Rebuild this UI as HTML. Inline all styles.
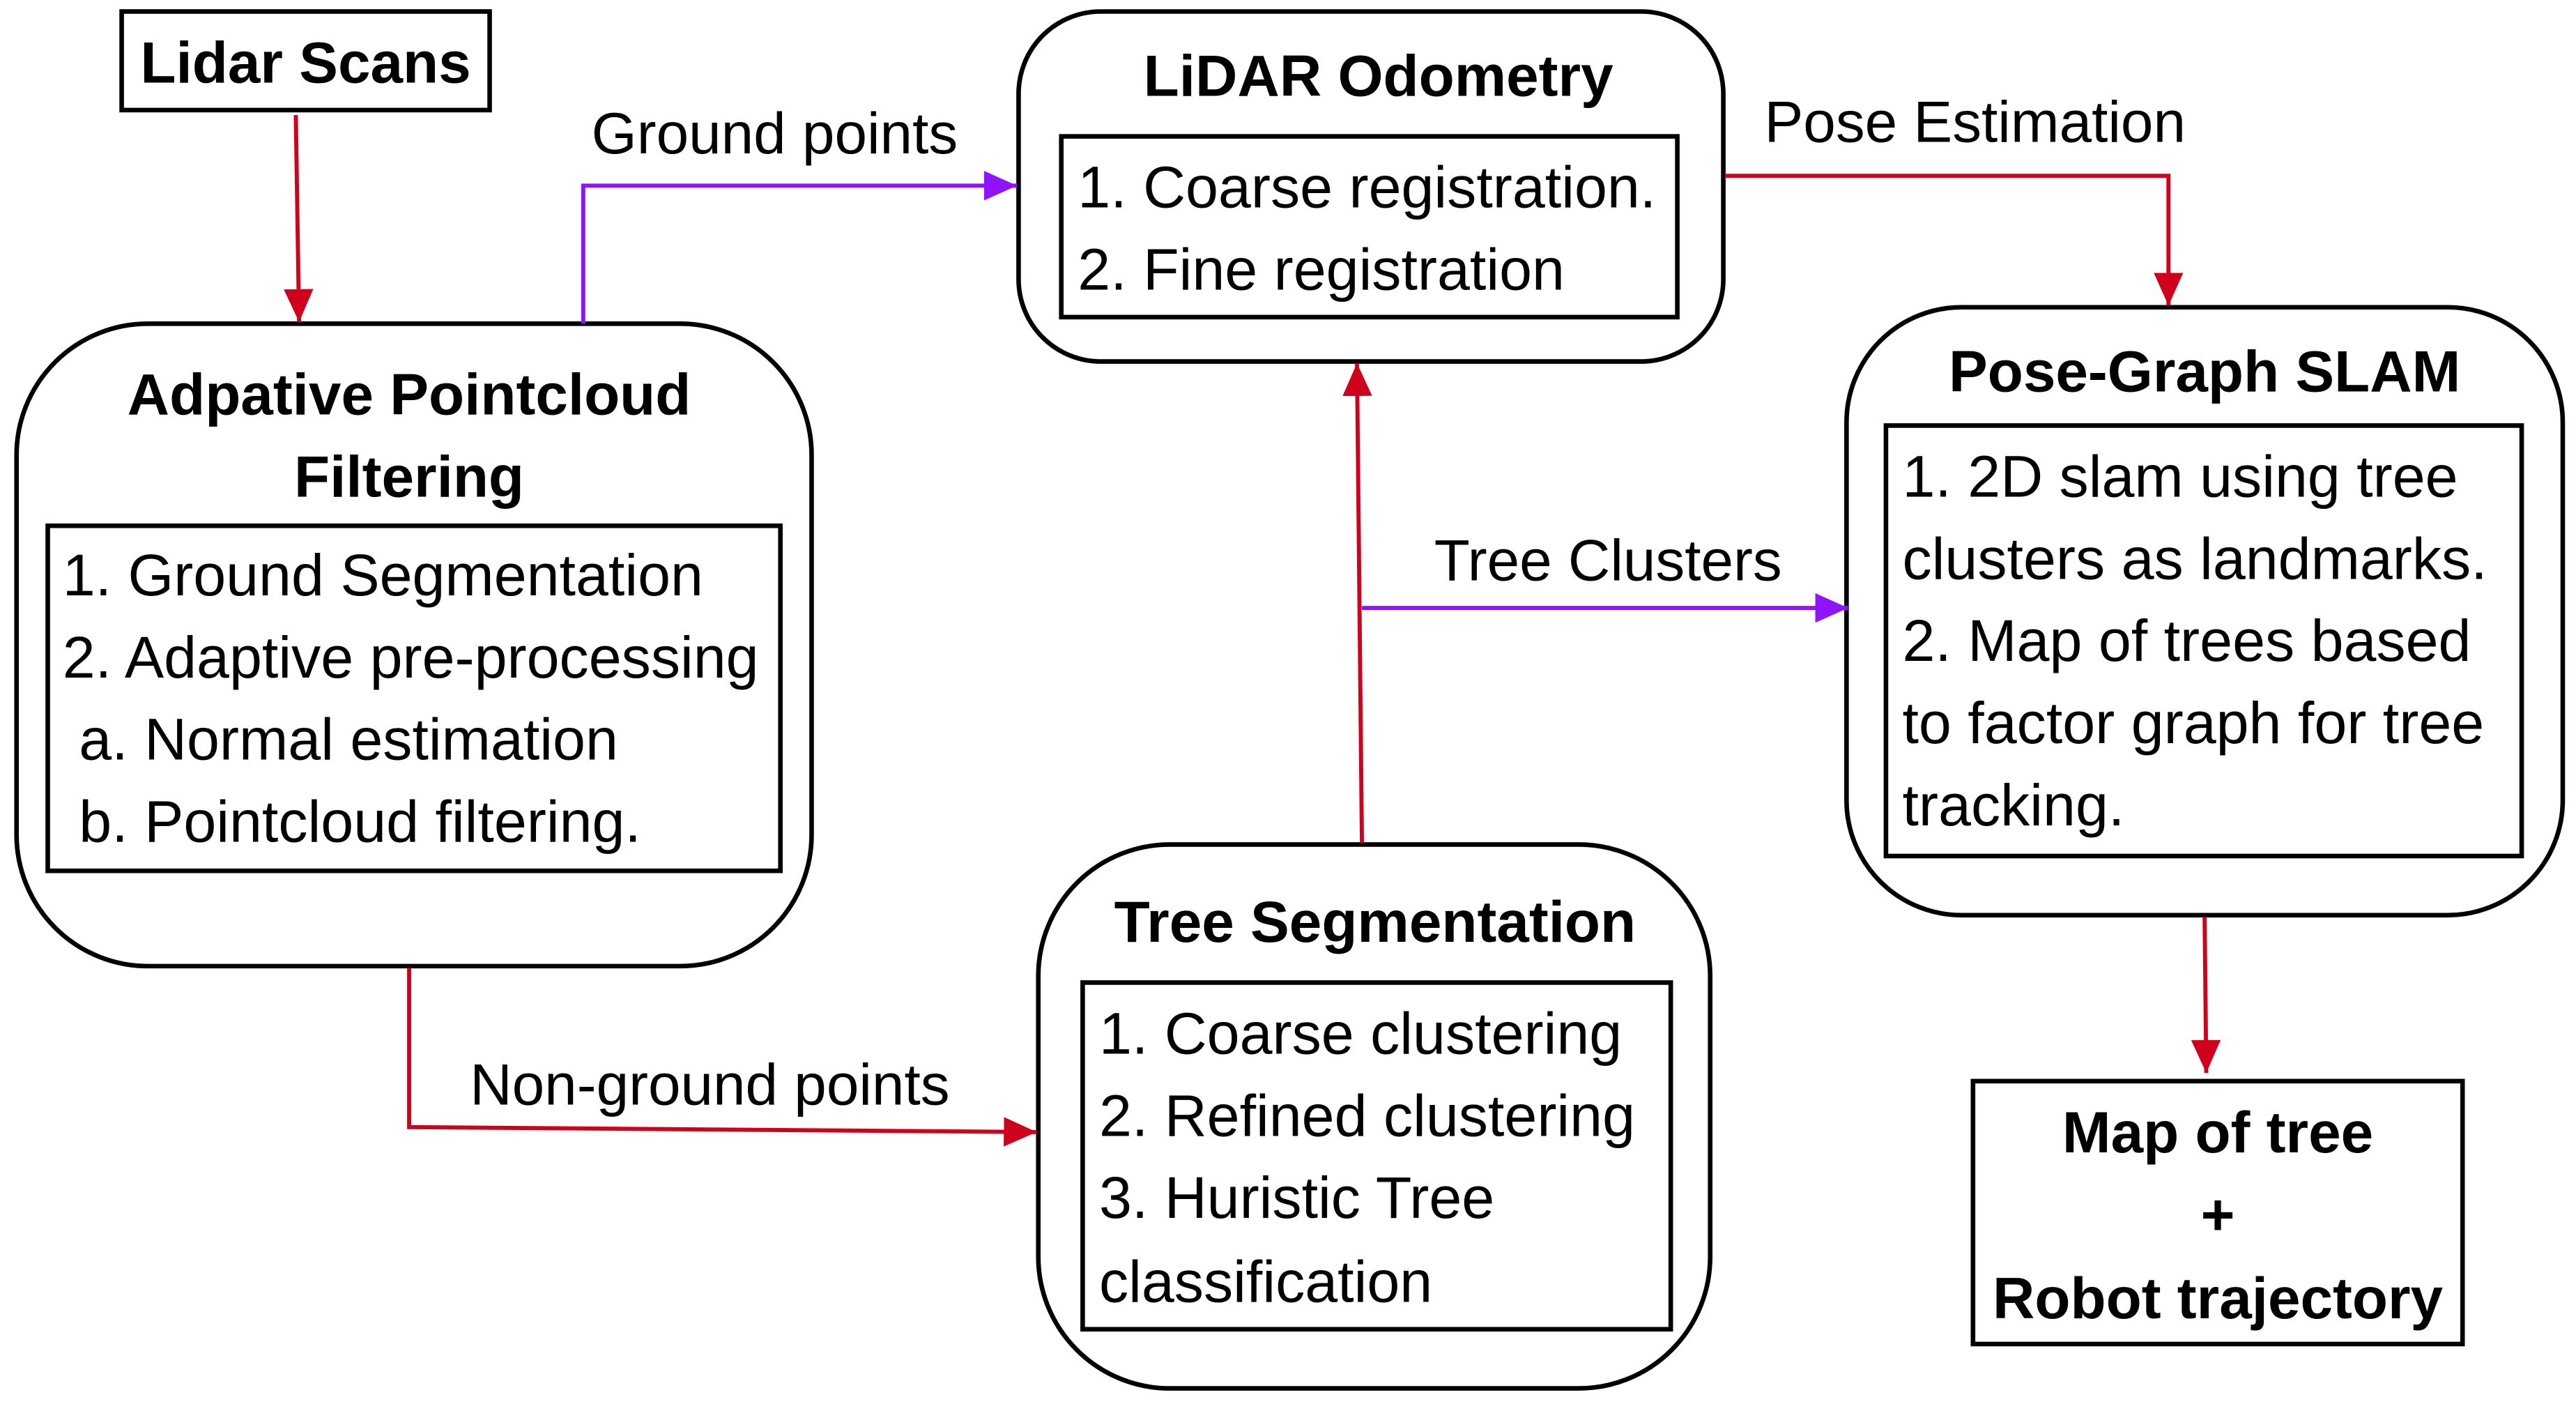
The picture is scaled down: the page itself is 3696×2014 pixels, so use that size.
<!DOCTYPE html>
<html><head><meta charset="utf-8"><style>html,body{margin:0;padding:0;background:#fff}svg{display:block}</style></head><body>
<svg width="3696" height="2014" viewBox="0 0 1568 854.5" xmlns="http://www.w3.org/2000/svg" font-family="Liberation Sans, sans-serif">
<defs>
<marker id="r" markerWidth="20" markerHeight="20" refX="20" refY="10" orient="auto" markerUnits="userSpaceOnUse" viewBox="0 0 20 20"><path d="M0,1 L20,10 L0,19 z" fill="#d0021b"/></marker>
<marker id="p" markerWidth="20" markerHeight="20" refX="20" refY="10" orient="auto" markerUnits="userSpaceOnUse" viewBox="0 0 20 20"><path d="M0,1 L20,10 L0,19 z" fill="#9013fe"/></marker>
</defs>
<g fill="none" stroke="#000" stroke-width="2.8">
<rect x="74" y="7" width="224" height="60"/>
<rect x="10" y="197" width="484" height="391" rx="80"/>
<rect x="29" y="320" width="446" height="210"/>
<rect x="620" y="7" width="429" height="213" rx="50"/>
<rect x="646" y="83" width="375" height="110"/>
<rect x="1124" y="187" width="436" height="370" rx="70"/>
<rect x="1148" y="259" width="387" height="262"/>
<rect x="1201" y="658" width="298" height="160"/>
<rect x="632" y="514" width="409" height="331" rx="80"/>
<rect x="659" y="598" width="358" height="211"/>
</g>
<g fill="none" stroke-width="2.5">
<path d="M180,70 L182,196" stroke="#d0021b" marker-end="url(#r)"/>
<path d="M355,197 L355,113 L619,113" stroke="#9013fe" marker-end="url(#p)"/>
<path d="M1050,107 L1320,107 L1320,186" stroke="#d0021b" marker-end="url(#r)"/>
<path d="M1342,558 L1343,653" stroke="#d0021b" marker-end="url(#r)"/>
<path d="M829,513 L826,221" stroke="#d0021b" marker-end="url(#r)"/>
<path d="M829,370 L1125,370" stroke="#9013fe" marker-end="url(#p)"/>
<path d="M249,589 L249,686 L631,689" stroke="#d0021b" marker-end="url(#r)"/>
</g>
<g font-size="35.5" font-weight="bold" text-anchor="middle" dominant-baseline="central">
<text x="186" y="38">Lidar Scans</text>
<text x="249" y="240">Adpative Pointcloud</text>
<text x="249" y="290">Filtering</text>
<text x="839" y="46">LiDAR Odometry</text>
<text x="1342" y="226">Pose-Graph SLAM</text>
<text x="837" y="561">Tree Segmentation</text>
<text x="1350" y="689">Map of tree</text>
<text x="1350" y="739">+</text>
<text x="1350" y="790">Robot trajectory</text>
</g>
<g font-size="35.8" dominant-baseline="central">
<text x="38" y="350">1. Ground Segmentation</text>
<text x="38" y="400">2. Adaptive pre-processing</text>
<text x="48" y="450">a. Normal estimation</text>
<text x="48" y="500">b. Pointcloud filtering.</text>
<text x="656" y="114">1. Coarse registration.</text>
<text x="656" y="164">2. Fine registration</text>
<text x="1158" y="290">1. 2D slam using tree</text>
<text x="1158" y="340">clusters as landmarks.</text>
<text x="1158" y="390">2. Map of trees based</text>
<text x="1158" y="440">to factor graph for tree</text>
<text x="1158" y="490">tracking.</text>
<text x="669" y="629">1. Coarse clustering</text>
<text x="669" y="679">2. Refined clustering</text>
<text x="669" y="729">3. Huristic Tree</text>
<text x="669" y="780">classification</text>
</g>
<g font-size="35.5" dominant-baseline="central">
<text x="360" y="81">Ground points</text>
<text x="1074" y="74">Pose Estimation</text>
<text x="873" y="341">Tree Clusters</text>
<text x="286" y="660">Non-ground points</text>
</g>
</svg>
</body></html>
